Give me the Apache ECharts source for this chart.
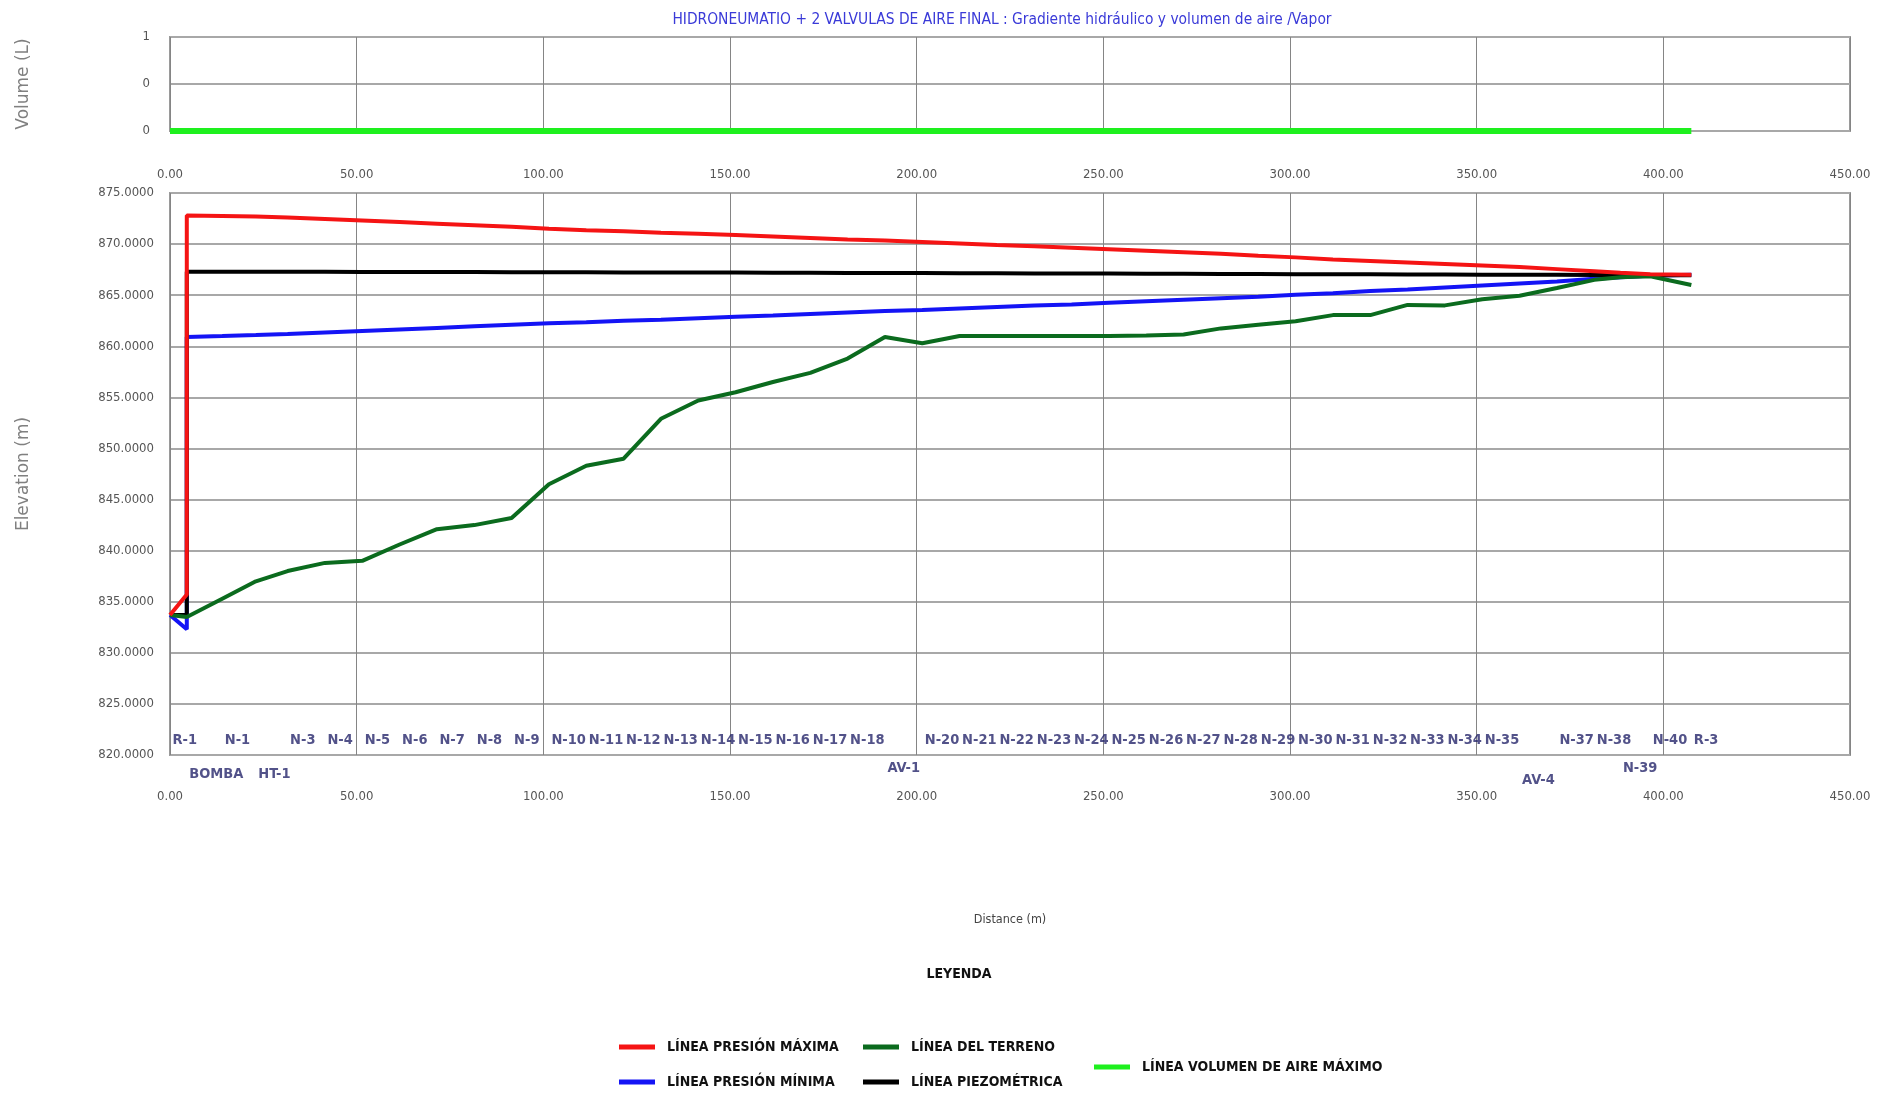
<!DOCTYPE html>
<html>
<head>
<meta charset="utf-8">
<title>Gradiente hidráulico y volumen de aire</title>
<script src="https://cdn.jsdelivr.net/npm/echarts@6.0.0/dist/echarts.min.js"></script>
<style>
  html, body { margin: 0; padding: 0; background: #fff; }
  #chart { width: 1887px; height: 1099px; }
</style>
</head>
<body>
<div id="chart"></div>
<script>
const narrow = "'Liberation Sans Narrow', 'DejaVu Sans Condensed', 'Arial Narrow', sans-serif"

// nodos del perfil (distancia en m)
const nodeNames = ['R-1', 'BOMBA', 'N-1', 'HT-1', 'N-3', 'N-4', 'N-5', 'N-6', 'N-7', 'N-8', 'N-9',
  'N-10', 'N-11', 'N-12', 'N-13', 'N-14', 'N-15', 'N-16', 'N-17', 'N-18', 'AV-1',
  'N-20', 'N-21', 'N-22', 'N-23', 'N-24', 'N-25', 'N-26', 'N-27', 'N-28', 'N-29',
  'N-30', 'N-31', 'N-32', 'N-33', 'N-34', 'N-35', 'AV-4', 'N-37', 'N-38', 'N-39', 'N-40', 'R-3']
const nodeDist = [0, 4.5, 14, 23, 31.5, 41.5, 51.5, 61.5, 71.5, 81.5, 91.5,
  101.5, 111.5, 121.5, 131.5, 141.5, 151.5, 161.5, 171.5, 181.5, 191.5,
  201.5, 211.5, 221.5, 231.5, 241.5, 251.5, 261.5, 271.5, 281.5, 291.5,
  301.5, 311.5, 321.5, 331.5, 341.5, 351.5, 361.5, 371.5, 381.5, 388.5, 396.5, 407.5]
const airVolume = [0, 0, 0, 0, 0, 0, 0, 0, 0, 0, 0, 0, 0, 0, 0, 0, 0, 0, 0, 0, 0, 0,
  0, 0, 0, 0, 0, 0, 0, 0, 0, 0, 0, 0, 0, 0, 0, 0, 0, 0, 0, 0, 0]

// perfil: la BOMBA tiene dos lecturas (succión y descarga)
const profileDist = [0, 4.5, 4.5, 14, 23, 31.5, 41.5, 51.5, 61.5, 71.5, 81.5, 91.5,
  101.5, 111.5, 121.5, 131.5, 141.5, 151.5, 161.5, 171.5, 181.5, 191.5,
  201.5, 211.5, 221.5, 231.5, 241.5, 251.5, 261.5, 271.5, 281.5, 291.5,
  301.5, 311.5, 321.5, 331.5, 341.5, 351.5, 361.5, 371.5, 381.5, 388.5, 396.5, 407.5]
const maxPressure = [833.7, 835.7, 872.8, 872.75, 872.7, 872.6, 872.45, 872.3, 872.15, 872.0, 871.85, 871.7,
  871.5, 871.35, 871.25, 871.1, 871.0, 870.9, 870.75, 870.6, 870.45, 870.35,
  870.2, 870.05, 869.9, 869.8, 869.65, 869.5, 869.35, 869.2, 869.05, 868.85,
  868.7, 868.5, 868.35, 868.2, 868.05, 867.9, 867.75, 867.55, 867.35, 867.2, 867.05, 867.0]
const minPressure = [833.7, 832.3, 860.9, 861.0, 861.1, 861.2, 861.35, 861.5, 861.65, 861.8, 861.95, 862.1,
  862.25, 862.35, 862.5, 862.6, 862.75, 862.9, 863.0, 863.15, 863.3, 863.45,
  863.55, 863.7, 863.85, 864.0, 864.1, 864.25, 864.4, 864.55, 864.7, 864.85,
  865.05, 865.2, 865.4, 865.55, 865.75, 865.95, 866.15, 866.35, 866.6, 866.75, 866.9, 867.0]
const terrain = [833.7, 833.5, 833.5, 835.3, 837.0, 838.0, 838.8, 839.0, 840.6, 842.1, 842.5, 843.2,
  846.5, 848.3, 849.0, 852.9, 854.7, 855.5, 856.5, 857.4, 858.8, 860.9,
  860.3, 861.0, 861.0, 861.0, 861.0, 861.0, 861.05, 861.15, 861.75, 862.1,
  862.45, 863.05, 863.05, 864.05, 864.0, 864.6, 864.95, 865.7, 866.5, 866.75, 866.85, 866.0]
const piezometric = [833.7, 833.7, 867.3, 867.3, 867.3, 867.3, 867.29, 867.28, 867.28, 867.27, 867.26, 867.25,
  867.25, 867.24, 867.23, 867.22, 867.22, 867.21, 867.2, 867.19, 867.18, 867.17,
  867.16, 867.15, 867.14, 867.13, 867.12, 867.11, 867.1, 867.09, 867.08, 867.07,
  867.06, 867.05, 867.04, 867.03, 867.02, 867.01, 867.0, 866.99, 866.98, 866.97, 866.96, 866.95]

// etiquetas que van en la segunda fila (debajo del eje), desplazamiento en px
const lowerOffset = { 'BOMBA': 19, 'HT-1': 19, 'AV-1': 13, 'AV-4': 25, 'N-39': 13 }

const pairs = (xs, ys) => xs.map((x, i) => [x, ys[i]])

const axisText = { color: '#555', fontSize: 13, fontFamily: narrow }
const nameText = { color: '#808080', fontSize: 17, fontFamily: "'DejaVu Sans', sans-serif" }

const lineSeries = (name, data, color, z) => ({
  name,
  type: 'line',
  xAxisIndex: 1,
  yAxisIndex: 1,
  data,
  showSymbol: false,
  z,
  lineStyle: { color, width: 4 },
  itemStyle: { color }
})

const legendBase = {
  orient: 'vertical',
  icon: 'rect',
  itemWidth: 36,
  itemHeight: 5,
  itemGap: 21,
  selectedMode: false,
  textStyle: { fontSize: 14, fontWeight: 'bold', color: '#111', fontFamily: narrow, padding: [0, 0, 0, 7] }
}

const chart = echarts.init(document.getElementById('chart'))

const option = {
  animation: false,
  backgroundColor: '#fff',
  textStyle: { fontFamily: narrow },
  grid: [
    { left: 170, right: 37, top: 37, height: 94, show: true, borderColor: '#9a9a9a', borderWidth: 2 },
    { left: 170, right: 37, top: 193, height: 562, show: true, borderColor: '#9a9a9a', borderWidth: 2 }
  ],
  xAxis: [
    {
      type: 'value', gridIndex: 0, min: 0, max: 450, interval: 50,
      axisLine: { show: false }, axisTick: { show: false },
      axisLabel: { ...axisText, margin: 37, formatter: v => v.toFixed(2) },
      splitLine: { lineStyle: { color: '#858585', width: 1 } }
    },
    {
      type: 'value', gridIndex: 1, min: 0, max: 450, interval: 50,
      axisLine: { show: false }, axisTick: { show: false },
      axisLabel: { ...axisText, margin: 35, formatter: v => v.toFixed(2) },
      splitLine: { lineStyle: { color: '#858585', width: 1 } },
      name: 'Distance (m)', nameLocation: 'middle', nameGap: 158,
      nameTextStyle: { color: '#444', fontSize: 12.5, fontFamily: narrow }
    }
  ],
  yAxis: [
    {
      type: 'value', gridIndex: 0, min: 0, max: 1, interval: 0.5,
      axisLine: { show: false }, axisTick: { show: false },
      axisLabel: { ...axisText, margin: 20, formatter: v => String(Math.floor(v)) },
      splitLine: { lineStyle: { color: '#a8a8a8', width: 2 } },
      name: 'Volume (L)', nameLocation: 'middle', nameGap: 138, nameTextStyle: nameText
    },
    {
      type: 'value', gridIndex: 1, min: 820, max: 875, interval: 5,
      axisLine: { show: false }, axisTick: { show: false },
      axisLabel: { ...axisText, margin: 16, formatter: v => v.toFixed(4) },
      splitLine: { lineStyle: { color: '#a8a8a8', width: 2 } },
      name: 'Elevation (m)', nameLocation: 'middle', nameGap: 138, nameTextStyle: nameText
    }
  ],
  legend: [
    { ...legendBase, left: 614, top: 1035, data: ['LÍNEA PRESIÓN MÁXIMA', 'LÍNEA PRESIÓN MÍNIMA'] },
    { ...legendBase, left: 858, top: 1035, data: ['LÍNEA DEL TERRENO', 'LÍNEA PIEZOMÉTRICA'] },
    { ...legendBase, left: 1089, top: 1055, data: ['LÍNEA VOLUMEN DE AIRE MÁXIMO'] }
  ],
  graphic: [
    {
      type: 'text', x: 1002, y: 20,
      style: {
        text: 'HIDRONEUMATIO + 2 VALVULAS DE AIRE FINAL : Gradiente hidráulico y volumen de aire /Vapor',
        fill: '#3a3ad8', fontSize: 15.4, fontFamily: narrow, align: 'center', verticalAlign: 'middle'
      }
    },
    {
      type: 'text', x: 959, y: 974,
      style: {
        text: 'LEYENDA', fill: '#111', fontSize: 14, fontWeight: 'bold', fontFamily: narrow,
        align: 'center', verticalAlign: 'middle'
      }
    }
  ],
  series: [
    {
      name: 'LÍNEA VOLUMEN DE AIRE MÁXIMO',
      type: 'line',
      xAxisIndex: 0,
      yAxisIndex: 0,
      data: pairs(nodeDist, airVolume),
      showSymbol: false,
      lineStyle: { color: '#1ef01e', width: 6 },
      itemStyle: { color: '#1ef01e' }
    },
    lineSeries('LÍNEA PRESIÓN MÍNIMA', pairs(profileDist, minPressure), '#1414f5', 3),
    lineSeries('LÍNEA PIEZOMÉTRICA', pairs(profileDist, piezometric), '#000000', 4),
    lineSeries('LÍNEA DEL TERRENO', pairs(profileDist, terrain), '#0b6b1e', 5),
    lineSeries('LÍNEA PRESIÓN MÁXIMA', pairs(profileDist, maxPressure), '#f51414', 6),
    {
      // nombres de los nodos
      type: 'scatter',
      xAxisIndex: 1,
      yAxisIndex: 1,
      symbolSize: 1,
      clip: false,
      silent: true,
      itemStyle: { color: 'rgba(0,0,0,0)' },
      label: {
        show: true,
        position: 'right',
        distance: 2,
        formatter: p => p.name,
        color: '#27276c',
        fontSize: 14.5,
        fontWeight: 'bold',
        fontFamily: narrow
      },
      data: nodeDist.map((d, i) => ({
        name: nodeNames[i],
        value: [d, 820],
        label: { offset: [0, lowerOffset[nodeNames[i]] !== undefined ? lowerOffset[nodeNames[i]] : -15] }
      }))
    }
  ]
}

chart.setOption(option)
</script>
</body>
</html>
